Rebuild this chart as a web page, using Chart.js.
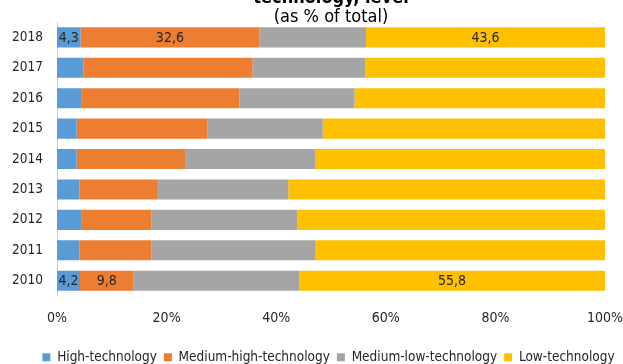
<!DOCTYPE html>
<html>
<head>
<meta charset="utf-8">
<script src="https://cdn.jsdelivr.net/npm/chart.js@4/dist/chart.umd.min.js"></script>
<style>
  html, body { margin: 0; padding: 0; background: #fff; overflow: hidden; }
  #wrap { position: relative; width: 623px; height: 389px; margin-top: -15px; }
</style>
</head>
<body>
<div id="wrap"><canvas id="chart" width="623" height="389"></canvas></div>
<script>
// Manufacturing by technology level, % of total
const years = ['2018', '2017', '2016', '2015', '2014', '2013', '2012', '2011', '2010'];
const highTech    = [4.3, 4.8, 4.4, 3.6, 3.6, 4.1, 4.4, 4.1, 4.2];
const medHighTech = [32.6, 30.9, 28.9, 23.8, 19.9, 14.3, 12.8, 13.1, 9.8];
const medLowTech  = [19.5, 20.6, 21.0, 21.1, 23.6, 23.8, 26.7, 30.0, 30.2];
const lowTech     = [43.6, 43.7, 45.7, 51.5, 52.9, 57.8, 56.1, 52.8, 55.8];
const xTicks = [0, 20, 40, 60, 80, 100];
// only first and last year carry value labels
const labelledYears = ['2018', '2010'];
const labelledSeries = [0, 1, 3];

const FONT = 'DejaVu Sans Condensed';

const barLabels = {
  id: 'barLabels',
  afterDatasetsDraw(chart) {
    const ctx = chart.ctx;
    ctx.save();
    ctx.font = '14px "' + FONT + '"';
    ctx.fillStyle = '#262626';
    ctx.textAlign = 'center';
    ctx.textBaseline = 'middle';
    labelledSeries.forEach(di => {
      const meta = chart.getDatasetMeta(di);
      const ds = chart.data.datasets[di];
      labelledYears.forEach(y => {
        const i = years.indexOf(y);
        const bar = meta.data[i];
        const x = (bar.x + bar.base) / 2;
        ctx.fillText(ds.data[i].toFixed(1).replace('.', ','), x, bar.y + 1);
      });
    });
    ctx.restore();
  }
};

// legend sits a bit right of the canvas centre in the original
const legendShift = {
  id: 'legendShift',
  afterLayout(chart) {
    chart.legend.left += 17;
    chart.legend.right += 17;
  }
};

new Chart(document.getElementById('chart'), {
  type: 'bar',
  data: {
    labels: years,
    datasets: [
      { label: 'High-technology', data: highTech, backgroundColor: '#5B9BD5' },
      { label: 'Medium-high-technology', data: medHighTech, backgroundColor: '#ED7D31' },
      { label: 'Medium-low-technology', data: medLowTech, backgroundColor: '#A5A5A5' },
      { label: 'Low-technology', data: lowTech, backgroundColor: '#FFC000' }
    ]
  },
  options: {
    indexAxis: 'y',
    responsive: false,
    animation: false,
    layout: { padding: 0 },
    datasets: { bar: { barPercentage: 0.66, categoryPercentage: 1 } },
    plugins: {
      title: {
        display: true,
        fullSize: false,
        text: 'technology, level',
        color: '#000',
        font: { family: FONT, size: 18, weight: 'bold' },
        padding: { top: 3, bottom: -3 }
      },
      subtitle: {
        display: true,
        fullSize: false,
        text: '(as % of total)',
        color: '#000',
        font: { family: FONT, size: 18 },
        padding: { top: 0, bottom: -6 }
      },
      legend: {
        position: 'bottom',
        labels: {
          color: '#262626',
          font: { family: FONT, size: 13.5 },
          boxWidth: 8, boxHeight: 8, padding: 7
        }
      },
      tooltip: { enabled: false }
    },
    scales: {
      x: {
        stacked: true,
        min: 0, max: 100,
        afterBuildTicks: axis => { axis.ticks = xTicks.map(v => ({ value: v })); },
        afterFit: axis => { axis.height = 47.6; axis.paddingRight = 18; },
        ticks: { color: '#262626', font: { family: FONT, size: 14 }, padding: 6, callback: v => v + '%' },
        grid: { display: false },
        border: { display: false }
      },
      y: {
        stacked: true,
        afterFit: axis => { axis.width = 57; },
        ticks: { color: '#262626', font: { family: FONT, size: 13.5 }, padding: 6 },
        grid: { display: false },
        border: { color: '#D0D0D0', width: 1 }
      }
    }
  },
  plugins: [barLabels, legendShift]
});
</script>
</body>
</html>
